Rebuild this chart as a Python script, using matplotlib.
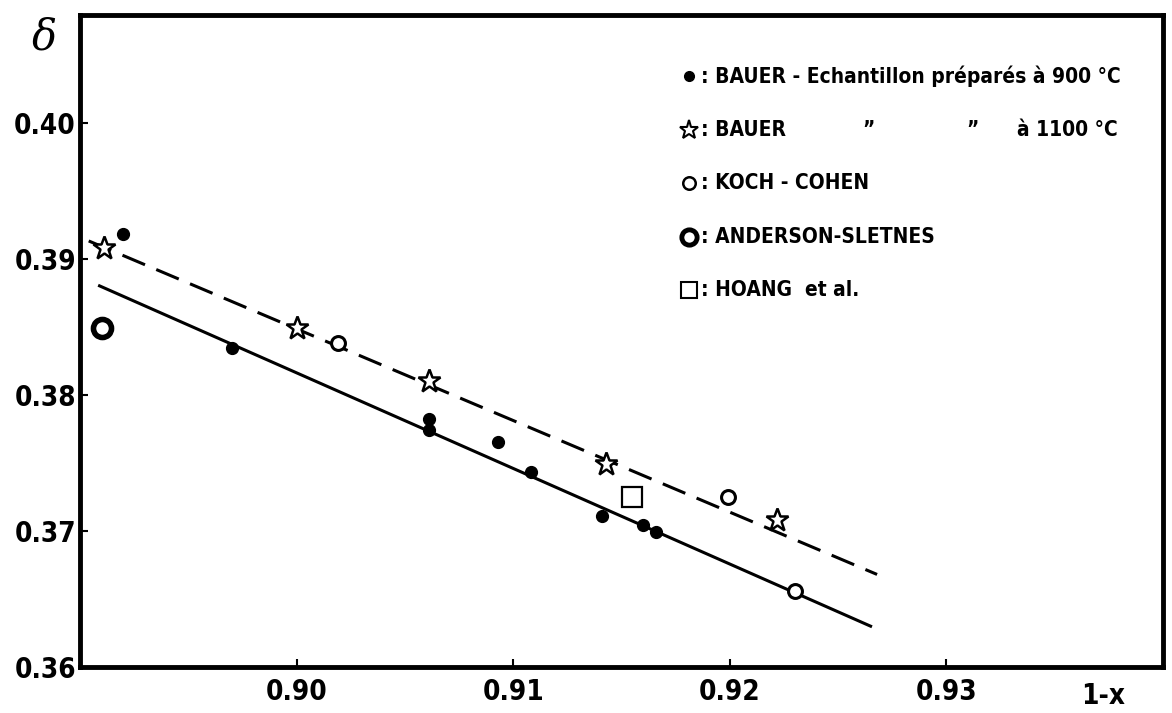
import matplotlib
matplotlib.use("Agg")
import matplotlib.pyplot as plt

# === Data ===
bauer900_x = [0.8920, 0.8970, 0.9061, 0.9061, 0.9093, 0.9108, 0.9141, 0.9160, 0.9166]
bauer900_y = [0.3918, 0.3834, 0.3782, 0.3774, 0.3765, 0.3743, 0.3711, 0.3704, 0.3699]

bauer1100_x = [0.8911, 0.9000, 0.9061, 0.9143, 0.9222]
bauer1100_y = [0.3908, 0.3849, 0.3810, 0.3749, 0.3708]

koch_x = [0.9019, 0.9199, 0.9230]
koch_y = [0.3838, 0.3725, 0.3656]

anderson_x = [0.8910]
anderson_y = [0.3849]

hoang_x = [0.9155]
hoang_y = [0.3725]

# fitted lines (end points)
solid_x = [0.8909, 0.9265]
solid_y = [0.3880, 0.3630]
dashed_x = [0.8904, 0.9268]
dashed_y = [0.3913, 0.3668]

xticks = [0.90, 0.91, 0.92, 0.93]
yticks = [0.36, 0.37, 0.38, 0.39, 0.40]

legend_labels = [
    ": BAUER - Echantillon préparés à 900 °C",
    ": BAUER",
    ": KOCH - COHEN",
    ": ANDERSON-SLETNES",
    ": HOANG  et al.",
]

# === Style ===
plt.rcParams["font.family"] = ["DejaVu Sans"]
plt.rcParams["font.stretch"] = "condensed"
plt.rcParams["font.weight"] = "bold"

fig = plt.figure(figsize=(11.72, 7.13), dpi=100)
ax = fig.add_axes([0.0683, 0.0645, 0.924, 0.9145])

ax.plot(solid_x, solid_y, color="black", lw=2.2)
ax.plot(dashed_x, dashed_y, color="black", lw=2.2, dashes=(8, 4))

ax.plot(bauer900_x, bauer900_y, "o", color="black", ms=8.5)
ax.plot(bauer1100_x, bauer1100_y, "*", mfc="white", mec="black", mew=1.8, ms=17)
ax.plot(koch_x, koch_y, "o", mfc="white", mec="black", mew=2.2, ms=10)
ax.plot(anderson_x, anderson_y, "o", mfc="white", mec="black", mew=4, ms=13)
ax.plot(hoang_x, hoang_y, "s", mfc="white", mec="black", mew=1.6, ms=14)

ax.set_xlim(0.8900, 0.9400)
ax.set_ylim(0.3600, 0.4079)
ax.set_xticks(xticks)
ax.set_yticks(yticks)
ax.set_xticklabels([f"{v:.2f}" for v in xticks])
ax.set_yticklabels([f"{v:.2f}" for v in yticks])
ax.tick_params(direction="in", length=6, width=1.5, labelsize=20, pad=3)
ax.tick_params(axis="x", pad=8)
for s in ax.spines.values():
    s.set_linewidth(3.5)

# axis labels
ax.text(-0.033, 0.965, "δ", transform=ax.transAxes, fontsize=30,
        ha="center", va="center", family="DejaVu Serif", style="italic",
        weight="normal", stretch="normal")
ax.text(0.945, -0.045, "1-x", transform=ax.transAxes, fontsize=20,
        ha="center", va="center")

# === Manual legend ===
lx = 0.562
ty = 0.906
dy = -0.082
kw = dict(transform=ax.transAxes, clip_on=False)
ax.plot([lx], [ty], "o", color="black", ms=7, **kw)
ax.plot([lx], [ty + dy], "*", mfc="white", mec="black", mew=1.5, ms=14, **kw)
ax.plot([lx], [ty + 2 * dy], "o", mfc="white", mec="black", mew=1.8, ms=9, **kw)
ax.plot([lx], [ty + 3 * dy], "o", mfc="white", mec="black", mew=3.5, ms=11, **kw)
ax.plot([lx], [ty + 4 * dy], "s", mfc="white", mec="black", mew=1.5, ms=12, **kw)

tx = lx + 0.011
for i, lab in enumerate(legend_labels):
    ax.text(tx, ty + i * dy, lab, transform=ax.transAxes, fontsize=15,
            ha="left", va="center")
# ditto marks and temperature for second row
ax.text(0.728, ty + dy, "\u201d", transform=ax.transAxes, fontsize=15,
        ha="center", va="center")
ax.text(0.824, ty + dy, "\u201d", transform=ax.transAxes, fontsize=15,
        ha="center", va="center")
ax.text(0.958, ty + dy, "à 1100 °C", transform=ax.transAxes, fontsize=15,
        ha="right", va="center")

fig.savefig("out.png", dpi=100)
